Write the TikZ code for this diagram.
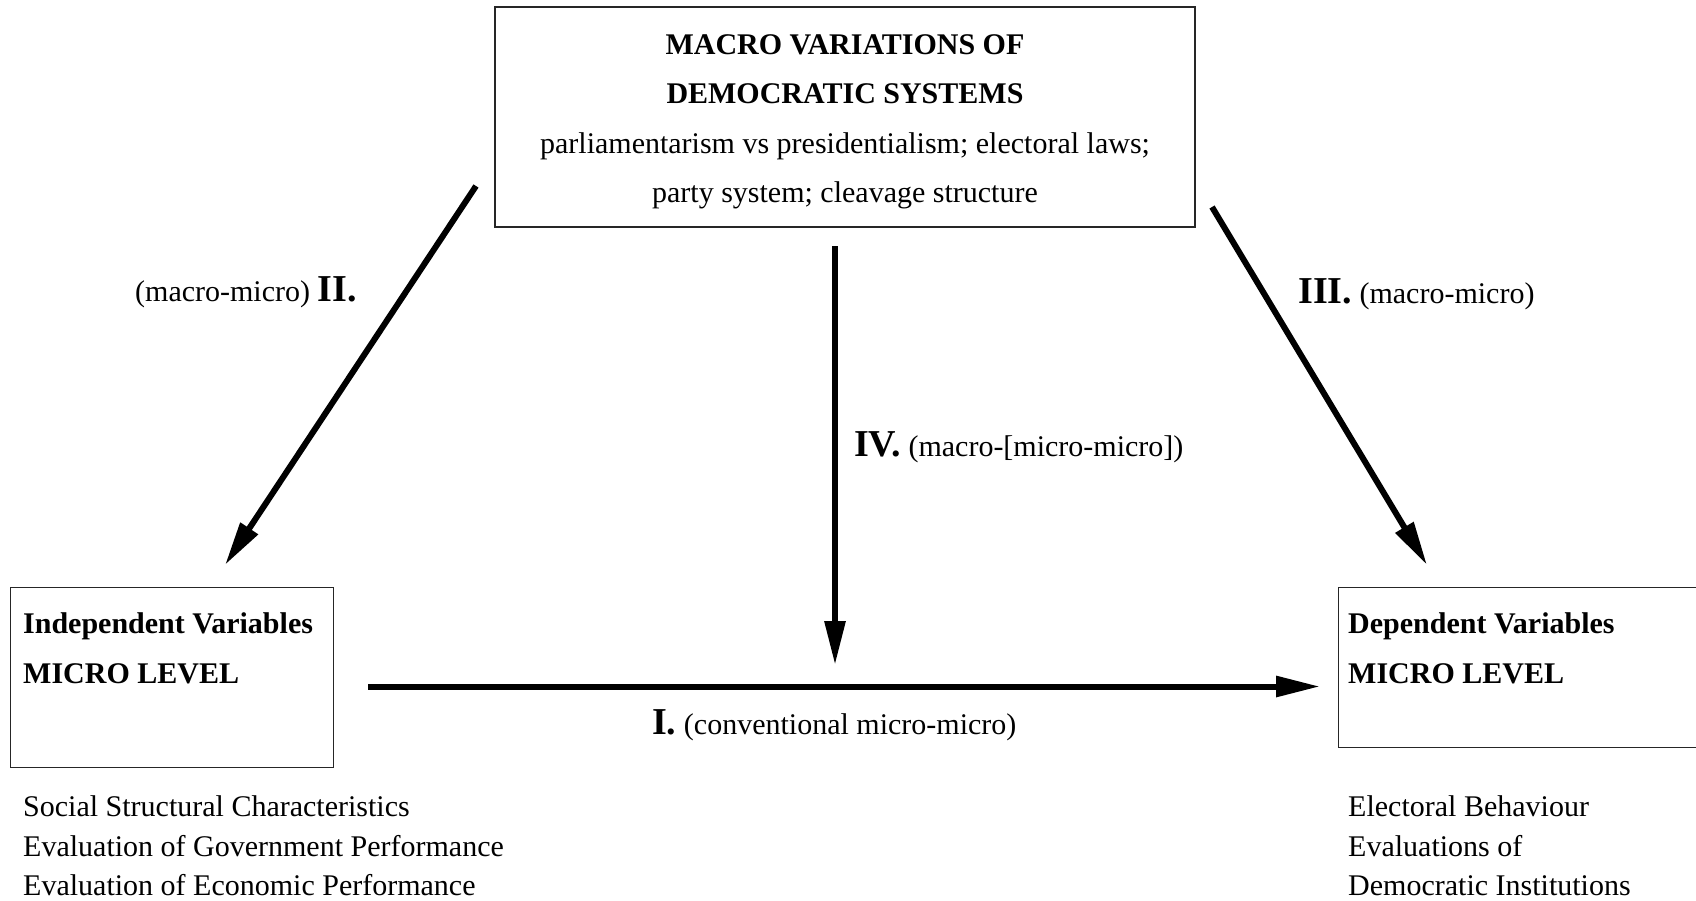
\documentclass[tikz,border=0pt]{standalone}
\usepackage{fontspec}
\setmainfont{Liberation Serif}
\usetikzlibrary{arrows.meta}
\begin{document}
\begin{tikzpicture}[x=1pt,y=-1pt,
  boxst/.style={draw=black!85, line width=1.2pt, inner sep=0pt},
  conn/.style={line width=6pt, -{Triangle[length=44pt,width=20pt]}},
  txt/.style={inner sep=0pt, anchor=base west, font=\fontsize{30}{36}\selectfont},
  btxt/.style={txt, font=\fontsize{30}{36}\selectfont\bfseries}
]
\path[use as bounding box] (0,0) rectangle (1696,900);
\clip (0,0) rectangle (1696,900);

% top box
\node[boxst, font=\fontsize{30}{49.5}\selectfont] (macro) at (845,117)
  {\parbox[c][220pt][c]{700pt}{\centering\vspace*{10pt}%
   \textbf{MACRO VARIATIONS OF}\\\textbf{DEMOCRATIC SYSTEMS}\\parliamentarism vs presidentialism; electoral laws;\\party system; cleavage structure\par}};

% left box
\node[boxst, anchor=north west, minimum width=323pt, minimum height=179.5pt] (indep) at (9.5,587) {};
\node[btxt] (indepA) at (23,633) {Independent Variables};
\node[btxt] (indepB) at (23,683) {MICRO LEVEL};

% right box
\node[boxst, anchor=north west, minimum width=420pt, minimum height=160pt] (dep) at (1338,587) {};
\node[btxt] (depA) at (1348,633) {Dependent Variables};
\node[btxt] (depB) at (1348,683) {MICRO LEVEL};

% lists
\node[txt] (l1) at (23,816.5) {Social Structural Characteristics};
\node[txt] (l2) at (23,856) {Evaluation of Government Performance};
\node[txt] (l3) at (23,895.5) {Evaluation of Economic Performance};
\node[txt] (r1) at (1348,816.5) {Electoral Behaviour};
\node[txt] (r2) at (1348,856) {Evaluations of};
\node[txt] (r3) at (1348,895.5) {Democratic Institutions};

% labels
\node[txt] (lII) at (135,301) {(macro-micro) {\fontsize{38}{40}\selectfont\bfseries II.}};
\node[txt] (lIII) at (1298,303) {{\fontsize{38}{40}\selectfont\bfseries III.} (macro-micro)};
\node[txt] (lIV) at (854,456) {{\fontsize{38}{40}\selectfont\bfseries IV.} (macro-[micro-micro])};
\node[txt] (lI) at (652,734) {{\fontsize{38}{40}\selectfont\bfseries I.} (conventional micro-micro)};

% connector end points
\coordinate (IIs) at (476,186);
\coordinate (IIe) at (225,565);
\coordinate (IIIs) at (1212,207);
\coordinate (IIIe) at (1427,565);
\coordinate (IVs) at (835,246);
\coordinate (IVe) at (835,665);
\coordinate (Is) at (368,686.5);
\coordinate (Ie) at (1320,686.5);

\draw[conn] (IIs) -- (IIe);
\draw[conn] (IIIs) -- (IIIe);
\draw[conn] (IVs) -- (IVe);
\draw[conn] (Is) -- (Ie);
\end{tikzpicture}
\end{document}
